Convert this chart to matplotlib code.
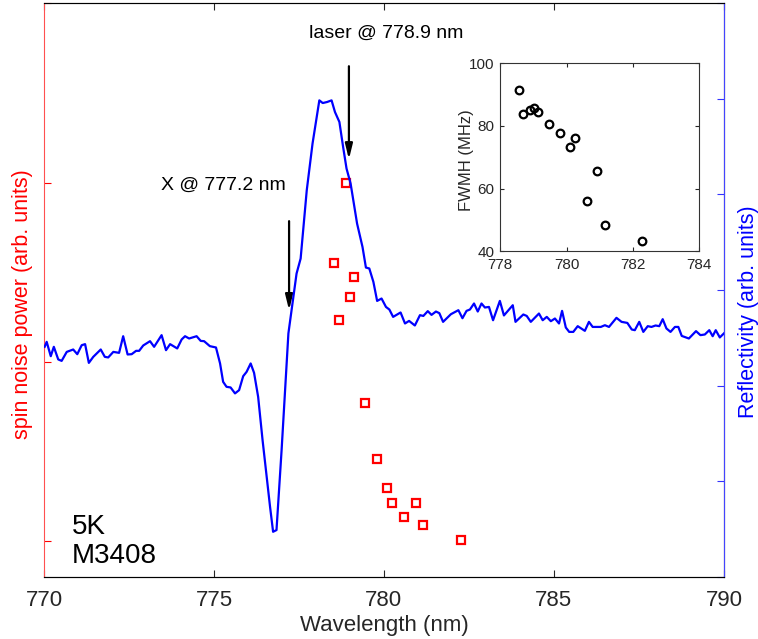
import matplotlib
matplotlib.use("Agg")
import matplotlib.pyplot as plt

plt.rcParams['font.family'] = ['Liberation Sans', 'DejaVu Sans']

# reflectivity spectrum (blue, right axis)
wl = [770.02, 770.08, 770.20, 770.29, 770.42, 770.52, 770.67, 770.86, 770.98, 771.11,
      771.21, 771.32, 771.45, 771.67, 771.79, 771.89, 772.04, 772.21, 772.33, 772.46,
      772.58, 772.71, 772.80, 772.92, 773.12, 773.24, 773.46, 773.59, 773.71, 773.92,
      774.05, 774.15, 774.27, 774.49, 774.61, 774.71, 774.88, 775.06, 775.18, 775.27,
      775.37, 775.49, 775.62, 775.74, 775.86, 775.96, 776.08, 776.18, 776.30, 776.43,
      776.65, 776.74, 776.84, 776.99, 777.19, 777.43, 777.55, 777.73, 777.90, 778.10,
      778.20, 778.33, 778.46, 778.56, 778.69, 778.80, 778.90, 779.02, 779.21, 779.37,
      779.47, 779.57, 779.69, 779.80, 779.93, 780.06, 780.16, 780.27, 780.49, 780.62,
      780.74, 780.91, 781.06, 781.16, 781.29, 781.40, 781.53, 781.63, 781.74, 781.97,
      782.19, 782.31, 782.43, 782.53, 782.65, 782.76, 782.87, 782.97, 783.09, 783.21,
      783.41, 783.53, 783.79, 783.87, 784.10, 784.20, 784.32, 784.56, 784.67, 784.79,
      784.91, 785.03, 785.15, 785.24, 785.35, 785.45, 785.57, 785.70, 785.91, 786.03,
      786.14, 786.38, 786.50, 786.62, 786.84, 786.99, 787.16, 787.29, 787.38, 787.51,
      787.63, 787.76, 787.87, 787.99, 788.10, 788.20, 788.31, 788.43, 788.56, 788.66,
      788.76, 788.97, 789.18, 789.31, 789.44, 789.57, 789.67, 789.76, 789.88, 790.00]
refl = [2.407, 2.459, 2.309, 2.407, 2.275, 2.260, 2.354, 2.379, 2.330, 2.424,
        2.435, 2.239, 2.302, 2.379, 2.302, 2.296, 2.354, 2.344, 2.518, 2.327,
        2.330, 2.365, 2.365, 2.421, 2.466, 2.407, 2.529, 2.372, 2.435, 2.390,
        2.484, 2.518, 2.494, 2.518, 2.469, 2.466, 2.414, 2.400, 2.233, 2.041,
        1.989, 1.982, 1.920, 1.954, 2.100, 2.145, 2.233, 2.135, 1.884, 1.432,
        0.735, 0.473, 0.491, 1.327, 2.547, 3.173, 3.330, 4.044, 4.532, 4.984,
        4.956, 4.967, 4.984, 4.862, 4.758, 4.496, 4.271, 4.114, 3.696, 3.451,
        3.236, 3.226, 3.086, 2.887, 2.912, 2.824, 2.797, 2.720, 2.766, 2.651,
        2.678, 2.630, 2.738, 2.730, 2.780, 2.741, 2.776, 2.759, 2.668, 2.748,
        2.790, 2.706, 2.783, 2.797, 2.860, 2.776, 2.860, 2.818, 2.824, 2.685,
        2.887, 2.735, 2.842, 2.668, 2.745, 2.730, 2.668, 2.755, 2.685, 2.720,
        2.675, 2.703, 2.651, 2.783, 2.609, 2.563, 2.563, 2.623, 2.574, 2.668,
        2.615, 2.615, 2.633, 2.615, 2.710, 2.668, 2.657, 2.588, 2.581, 2.668,
        2.563, 2.623, 2.615, 2.630, 2.623, 2.696, 2.599, 2.563, 2.615, 2.615,
        2.521, 2.494, 2.571, 2.529, 2.536, 2.581, 2.518, 2.581, 2.505, 2.547]

# laser wavelengths, spin noise power (red squares) and FWHM (inset)
laser_wl = [778.54, 778.67, 778.89, 778.99, 779.11, 779.45, 779.79, 780.08,
            780.24, 780.59, 780.93, 781.15, 782.28]
noise = [1.552, 1.233, 1.996, 1.359, 1.471, 0.772, 0.456, 0.294,
         0.214, 0.136, 0.212, 0.090, 0.006]
fwhm_wl = [778.57, 778.68, 778.90, 779.02, 779.13, 779.47, 779.81, 780.10,
           780.25, 780.60, 780.93, 781.16, 782.28]
fwhm = [91.6, 83.7, 85.0, 85.6, 84.3, 80.6, 77.6, 73.3,
        76.2, 55.9, 65.5, 48.4, 43.1]

txt = '#262626'
fig = plt.figure(figsize=(7.58, 6.39), dpi=100)
ax = fig.add_axes([0.058, 0.097, 0.897, 0.898])
ax2 = ax.twinx()

ax.plot(laser_wl, noise, 's', ms=5.5, mfc='none', mec='red', mew=1.6, zorder=5)
ax.set_xlim(770, 790)
ax.set_ylim(-0.2, 3.0)
ax.set_yticks([0, 1, 2, 3])
ax.set_yticklabels([])
ax.set_xticks([770, 775, 780, 785, 790])
ax.tick_params(axis='x', direction='in', top=True, length=5, pad=9,
               labelsize=16, colors=txt)
ax.tick_params(axis='y', direction='in', length=5, colors='red')
ax.set_xlabel('Wavelength (nm)', fontsize=16, color=txt, labelpad=3)
ax.set_ylabel('spin noise power (arb. units)', fontsize=15.5, color='red')
ax.yaxis.set_label_coords(-0.016, 0.476)
ax.spines['left'].set_color('#ff5050')
ax.spines['top'].set_color('#555555')
ax.spines['bottom'].set_color('#333333')

ax2.plot(wl, refl, color='#0000ff', lw=1.6)
ax2.set_ylim(0, 6)
ax2.set_yticks(range(7))
ax2.set_yticklabels([])
ax2.tick_params(axis='y', direction='in', length=5, colors='#3333ff')
ax2.set_ylabel('Reflectivity (arb. units)', fontsize=15.5, color='#0000ff')
ax2.yaxis.set_label_coords(1.021, 0.463)
ax2.spines['right'].set_color('#4444ff')
ax2.spines['left'].set_visible(False)

# arrows and labels
arr = dict(arrowstyle='-|>,head_width=0.22,head_length=0.9', color='k', lw=1.6)
ax.annotate('', xy=(777.21, 0.460), xytext=(777.21, 0.625),
            xycoords=('data', 'axes fraction'), textcoords=('data', 'axes fraction'),
            arrowprops=arr)
ax.annotate('', xy=(778.97, 0.723), xytext=(778.97, 0.895),
            xycoords=('data', 'axes fraction'), textcoords=('data', 'axes fraction'),
            arrowprops=arr)
ax.text(775.29, 0.683, 'X @ 777.2 nm', transform=ax.get_xaxis_transform(),
        ha='center', va='center', fontsize=14)
ax.text(780.06, 0.948, 'laser @ 778.9 nm', transform=ax.get_xaxis_transform(),
        ha='center', va='center', fontsize=14)
ax.text(0.041, 0.087, '5K', transform=ax.transAxes, ha='left', va='center', fontsize=20)
ax.text(0.041, 0.037, 'M3408', transform=ax.transAxes, ha='left', va='center', fontsize=20)

# inset
ins = fig.add_axes([0.660, 0.607, 0.2625, 0.294])
ins.plot(fwhm_wl, fwhm, 'o', ms=5.5, mfc='none', mec='k', mew=1.6)
ins.set_xlim(778, 784)
ins.set_ylim(40, 100)
ins.set_xticks([778, 780, 782, 784])
ins.set_yticks([40, 60, 80, 100])
ins.tick_params(direction='in', top=True, right=True, length=3, labelsize=11,
                colors=txt, pad=4)
ins.tick_params(axis='x', pad=5)
ins.set_ylabel('FWMH (MHz)', fontsize=12, color=txt)
ins.yaxis.set_label_coords(-0.13, 0.484)
for s in ins.spines.values():
    s.set_color('#333333')

fig.savefig('out.png', dpi=100)
